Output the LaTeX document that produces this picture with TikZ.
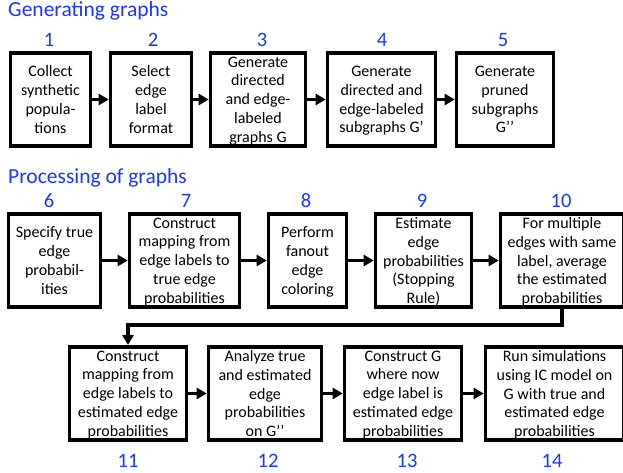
\documentclass[tikz,border=0pt]{standalone}
\usepackage{fontspec}
\setmainfont{Carlito}
\usetikzlibrary{arrows.meta}
\definecolor{numblue}{RGB}{25,55,255}
\tikzset{
  stepbox/.style={draw=black, line width=3.6pt, fill=white, inner sep=0pt,
    minimum height=93.5pt, align=center, text depth=0pt,
    font=\fontsize{16}{18.8}\selectfont},
  num/.style={text=numblue, font=\fontsize{20.5}{24}\selectfont, anchor=base, inner sep=0pt},
  ttl/.style={text=numblue, font=\fontsize{21.5}{25}\selectfont, anchor=base west, inner sep=0pt},
  arr/.style={line width=3.6pt, -{Triangle[length=10pt,width=11pt]}}
}
\begin{document}
\begin{tikzpicture}[x=1pt,y=-1pt]
\useasboundingbox (0,0) rectangle (623,473);
\clip (0,0) rectangle (623,473);
\node[ttl] (t1) at (8,17) {Generating graphs};
\node[ttl] (t2) at (8,183) {Processing of graphs};
% row 1
\node[stepbox, minimum width=80pt] (b1) at (50.5,99.5) {Collect\\synthetic\\popula-\\tions};
\node[stepbox, minimum width=81pt] (b2) at (151,99.5) {Select\\edge\\label\\format};
\node[stepbox, minimum width=95pt] (b3) at (258,99.5) {Generate\\directed\\and edge-\\labeled\\graphs G};
\node[stepbox, minimum width=108pt] (b4) at (381.5,99.5) {Generate\\directed and\\edge-labeled\\subgraphs G’};
\node[stepbox, minimum width=97pt] (b5) at (505,99.5) {Generate\\pruned\\subgraphs\\G’’};
% row 2
\node[stepbox, minimum width=92pt] (b6) at (54.5,260.5) {Specify true\\edge\\probabil-\\ities};
\node[stepbox, minimum width=110pt] (b7) at (184.5,260.5) {Construct\\mapping from\\edge labels to\\true edge\\probabilities};
\node[stepbox, minimum width=78pt] (b8) at (307.5,260.5) {Perform\\fanout\\edge\\coloring};
\node[stepbox, minimum width=96pt] (b9) at (423.5,260.5) {Estimate\\edge\\probabilities\\(Stopping\\Rule)};
\node[stepbox, minimum width=123pt] (b10) at (562,260.5) {For multiple\\edges with same\\label, average\\the estimated\\probabilities};
% row 3
\node[stepbox, minimum width=117pt] (b11) at (128,393.5) {Construct\\mapping from\\edge labels to\\estimated edge\\probabilities};
\node[stepbox, minimum width=113pt] (b12) at (265,393.5) {Analyze true\\and estimated\\edge\\probabilities\\on G’’};
\node[stepbox, minimum width=117pt] (b13) at (403,393.5) {Construct G\\where now\\edge label is\\estimated edge\\probabilities};
\node[stepbox, minimum width=138pt] (b14) at (554.5,393.5) {Run simulations\\using IC model on\\G with true and\\estimated edge\\probabilities};
% numbers
\node[num] (n1) at (49,47) {1};
\node[num] (n2) at (153,47) {2};
\node[num] (n3) at (262,47) {3};
\node[num] (n4) at (382,47) {4};
\node[num] (n5) at (503,47) {5};
\node[num] (n6) at (49,207) {6};
\node[num] (n7) at (186,207) {7};
\node[num] (n8) at (306,207) {8};
\node[num] (n9) at (422,207) {9};
\node[num] (n10) at (561,207) {10};
\node[num] (n11) at (128,467) {11};
\node[num] (n12) at (268,467) {12};
\node[num] (n13) at (407,467) {13};
\node[num] (n14) at (552,467) {14};
% arrows
\draw[arr] (b1) -- (b2);
\draw[arr] (b2) -- (b3);
\draw[arr] (b3) -- (b4);
\draw[arr] (b4) -- (b5);
\draw[arr] (b6) -- (b7);
\draw[arr] (b7) -- (b8);
\draw[arr] (b8) -- (b9);
\draw[arr] (b9) -- (b10);
\draw[arr] (b10.south) -- ++(0,16) -| (b11.north);
\draw[arr] (b11) -- (b12);
\draw[arr] (b12) -- (b13);
\draw[arr] (b13) -- (b14);
\end{tikzpicture}
\end{document}
